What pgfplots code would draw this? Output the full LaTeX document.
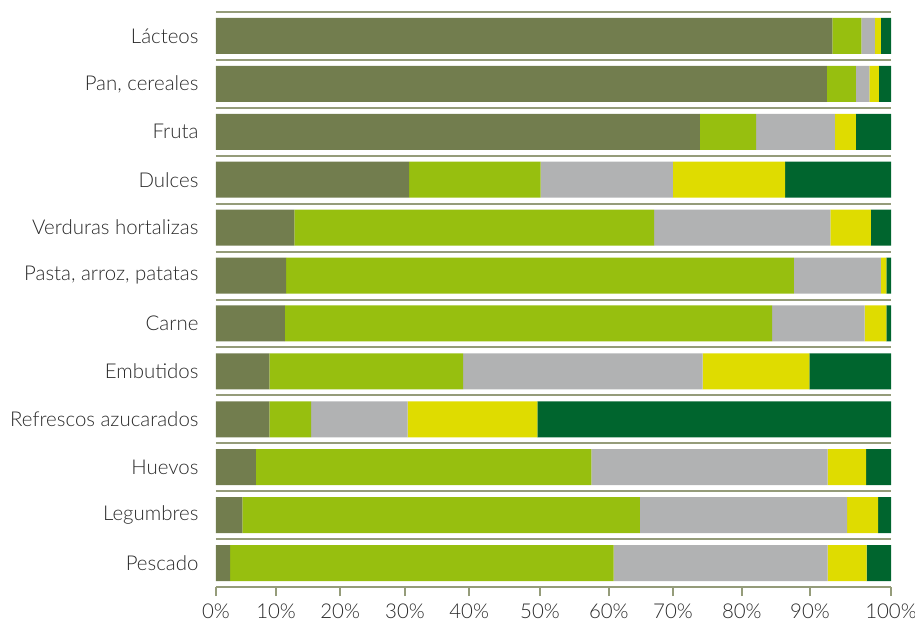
\documentclass[border=0pt]{standalone}
\usepackage{pgfplots}
\pgfplotsset{compat=1.18}
\usepackage{pgfplotstable}
\usepackage{fontspec}
\setmainfont{Lato}[UprightFont=* Light]
\definecolor{cOlive}{HTML}{727D4E}
\definecolor{cLight}{HTML}{97BF0F}
\definecolor{cGray}{HTML}{B1B2B3}
\definecolor{cYellow}{HTML}{DFDC00}
\definecolor{cDark}{HTML}{00652E}
\definecolor{cSep}{HTML}{959C7A}
\definecolor{cText}{HTML}{2A2A2A}
\pgfplotstableread{
y a b c d e
0 91.3 4.3 2.0 0.9 1.5
1 90.5 4.3 2.0 1.4 1.8
2 71.7 8.3 11.7 3.1 5.2
3 28.6 19.5 19.6 16.6 15.7
4 11.6 53.3 26.1 6.0 3.0
5 10.4 75.2 12.9 0.8 0.7
6 10.2 72.2 13.7 3.2 0.7
7 7.9 28.7 35.5 15.8 12.1
8 7.9 6.2 14.3 19.2 52.4
9 5.9 49.7 35.0 5.7 3.7
10 3.9 58.9 30.7 4.6 1.9
11 2.1 56.8 31.7 5.8 3.6
}\datatable
\begin{document}
\begin{tikzpicture}
\path[use as bounding box] (-216bp,-41bp) rectangle (699bp,587bp);
\begin{axis}[
  at={(0,0)}, anchor=south west,
  scale only axis, width=675bp, height=575bp,
  xbar stacked, bar width=36bp,
  xmin=0, xmax=100, ymin=-0.5, ymax=11.5,
  y dir=reverse,
  axis x line*=bottom, axis y line*=left,
  y axis line style={draw=none},
  x axis line style={draw=cSep, line width=1.5bp},
  xtick={0,8.9,18.4,28.0,37.5,48.0,58.2,67.7,77.9,88.0,100},
  xticklabels={0\%,10\%,20\%,30\%,40\%,50\%,60\%,70\%,80\%,90\%,100\%},
  xtick style={draw=cSep, line width=1.5bp},
  xtick align=outside, major tick length=9bp,
  ytick={0,...,11},
  yticklabels={L\'acteos,{Pan, cereales},Fruta,Dulces,Verduras hortalizas,{Pasta, arroz, patatas},Carne,Embutidos,Refrescos azucarados,Huevos,Legumbres,Pescado},
  ytick style={draw=none},
  minor ytick={-0.5,0.5,...,10.5},
  yminorgrids=true,
  minor grid style={draw=cSep, line width=2bp},
  ticklabel style={font=\fontsize{20.5}{22}\selectfont, text=cText},
  yticklabel style={xshift=-14bp},
  xticklabel style={yshift=-4bp},
  every axis plot/.append style={draw=none},
]
\addplot[fill=cOlive] table[x=a,y=y]{\datatable};
\addplot[fill=cLight] table[x=b,y=y]{\datatable};
\addplot[fill=cGray] table[x=c,y=y]{\datatable};
\addplot[fill=cYellow] table[x=d,y=y]{\datatable};
\addplot[fill=cDark] table[x=e,y=y]{\datatable};
\end{axis}
\end{tikzpicture}
\end{document}
